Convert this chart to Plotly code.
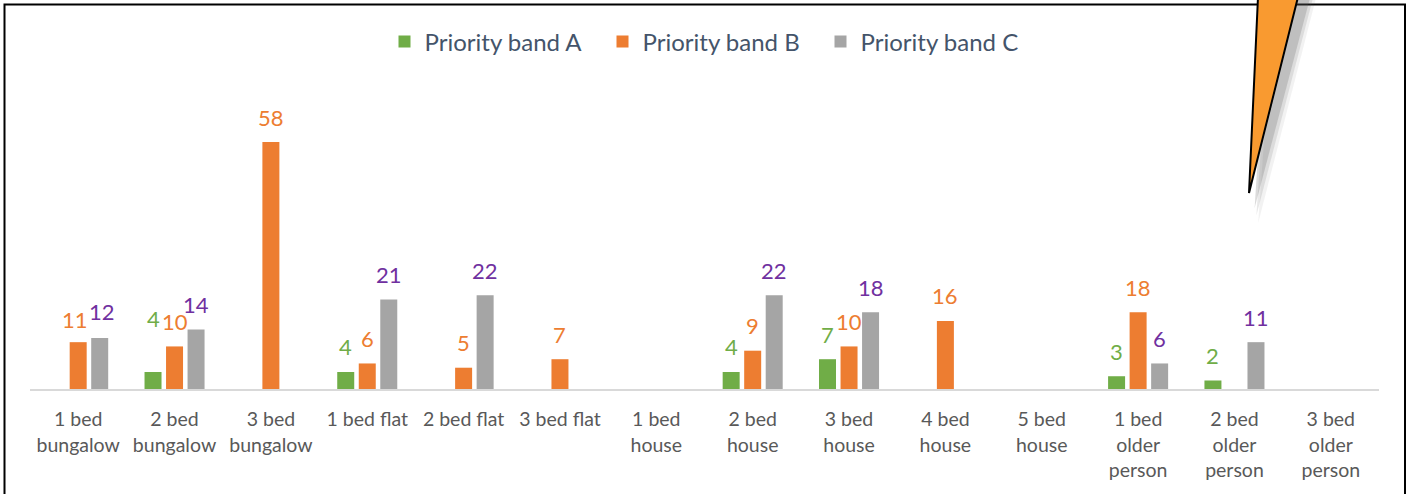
import plotly.graph_objects as go

categories = ["1 bed<br>bungalow", "2 bed<br>bungalow", "3 bed<br>bungalow", "1 bed flat",
              "2 bed flat", "3 bed flat", "1 bed<br>house", "2 bed<br>house", "3 bed<br>house",
              "4 bed<br>house", "5 bed<br>house", "1 bed<br>older<br>person",
              "2 bed<br>older<br>person", "3 bed<br>older<br>person"]
band_a = [None, 4, None, 4, None, None, None, 4, 7, None, None, 3, 2, None]
band_b = [11, 10, 58, 6, 5, 7, None, 9, 10, 16, None, 18, None, None]
band_c = [12, 14, None, 21, 22, None, None, 22, 18, None, None, 6, 11, None]
series_names = ["Priority band A", "Priority band B", "Priority band C"]

W, H = 1406, 494
L, R, T, B = 30, W - 1379, 91, H - 389
FONT = "Lato"
BARGAP = 0.33

bar_colors = ["#70AD47", "#ED7D31", "#A5A5A5"]
label_colors = ["#70AD47", "#ED7D31", "#7030A0"]
# label placement (pixels above bar end), with a few labels nudged as in the source
label_shift = 25
label_shift_override = {(0, 1): 53, (1, 0): 23, (2, 0): 26}
label_xshift_override = {(1, 0): -3, (2, 0): 2}

fig = go.Figure()
annotations = []
series = [band_a, band_b, band_c]
slot = (1 - BARGAP) / len(series)
for k, (name, vals, bc, lc) in enumerate(zip(series_names, series, bar_colors, label_colors)):
    fig.add_trace(go.Bar(
        x=categories, y=vals, name=name,
        marker=dict(color=bc, line=dict(width=0)),
        hoverinfo="x+y+name",
    ))
    for i, v in enumerate(vals):
        if v is None:
            continue
        annotations.append(dict(
            x=i + (k - (len(series) - 1) / 2) * slot, y=v, xref="x", yref="y",
            text=str(v), showarrow=False, yanchor="middle", xanchor="center",
            yshift=label_shift_override.get((k, i), label_shift),
            xshift=label_xshift_override.get((k, i), 0),
            font=dict(color=lc, size=22, family=FONT),
        ))

pw = W - L - R
ph = H - T - B


def px(x):
    return (x - L) / pw


def py(y):
    return (H - B - y) / ph


shapes = []
# outer frame
shapes.append(dict(type="rect", xref="paper", yref="paper",
                   x0=px(4.5), x1=px(1405), y0=py(4.5), y1=py(520),
                   line=dict(color="black", width=2), fillcolor="rgba(0,0,0,0)", layer="above"))
# soft shadow of the callout pointer
for off, op in [(12, 0.08), (9, 0.14), (6, 0.22)]:
    path = "M {} {} L {} {} L {} {} Z".format(px(1262 + off), py(-2), px(1304 + off), py(-2),
                                              px(1251 + off * 0.6), py(193 + off * 2.5))
    shapes.append(dict(type="path", xref="paper", yref="paper", path=path,
                       fillcolor="rgba(90,90,90,{})".format(op), line=dict(width=0), layer="above"))
path = "M {} {} L {} {} L {} {} Z".format(px(1258), py(-3), px(1298), py(-3), px(1249), py(193))
shapes.append(dict(type="path", xref="paper", yref="paper", path=path,
                   fillcolor="#F99A30", line=dict(color="black", width=2), layer="above"))

fig.update_layout(
    width=W, height=H,
    margin=dict(l=L, r=R, t=T, b=B, autoexpand=False),
    paper_bgcolor="white", plot_bgcolor="white",
    barmode="group", bargap=BARGAP, bargroupgap=0.21,
    font=dict(family=FONT),
    showlegend=True,
    legend=dict(orientation="h", x=0.5 + 7 / pw, xanchor="center", y=py(42), yanchor="middle",
                font=dict(size=24, color="#44546A", family=FONT),
                traceorder="normal", entrywidth=173, entrywidthmode="pixels"),
    xaxis=dict(showgrid=False, showline=True, linecolor="#D9D9D9", linewidth=1.5,
               ticks="outside", ticklen=12, tickcolor="rgba(0,0,0,0)",
               tickfont=dict(size=19.5, color="#595959", family=FONT), tickangle=0,
               automargin=False, fixedrange=True),
    yaxis=dict(range=[0, 70], showgrid=False, showline=False, showticklabels=False,
               zeroline=False, ticks="", automargin=False, fixedrange=True),
    shapes=shapes,
    annotations=annotations,
)

fig.write_html("out.html", config={"displayModeBar": False},
               post_script="document.body.style.margin='0';document.body.style.overflow='hidden';")
